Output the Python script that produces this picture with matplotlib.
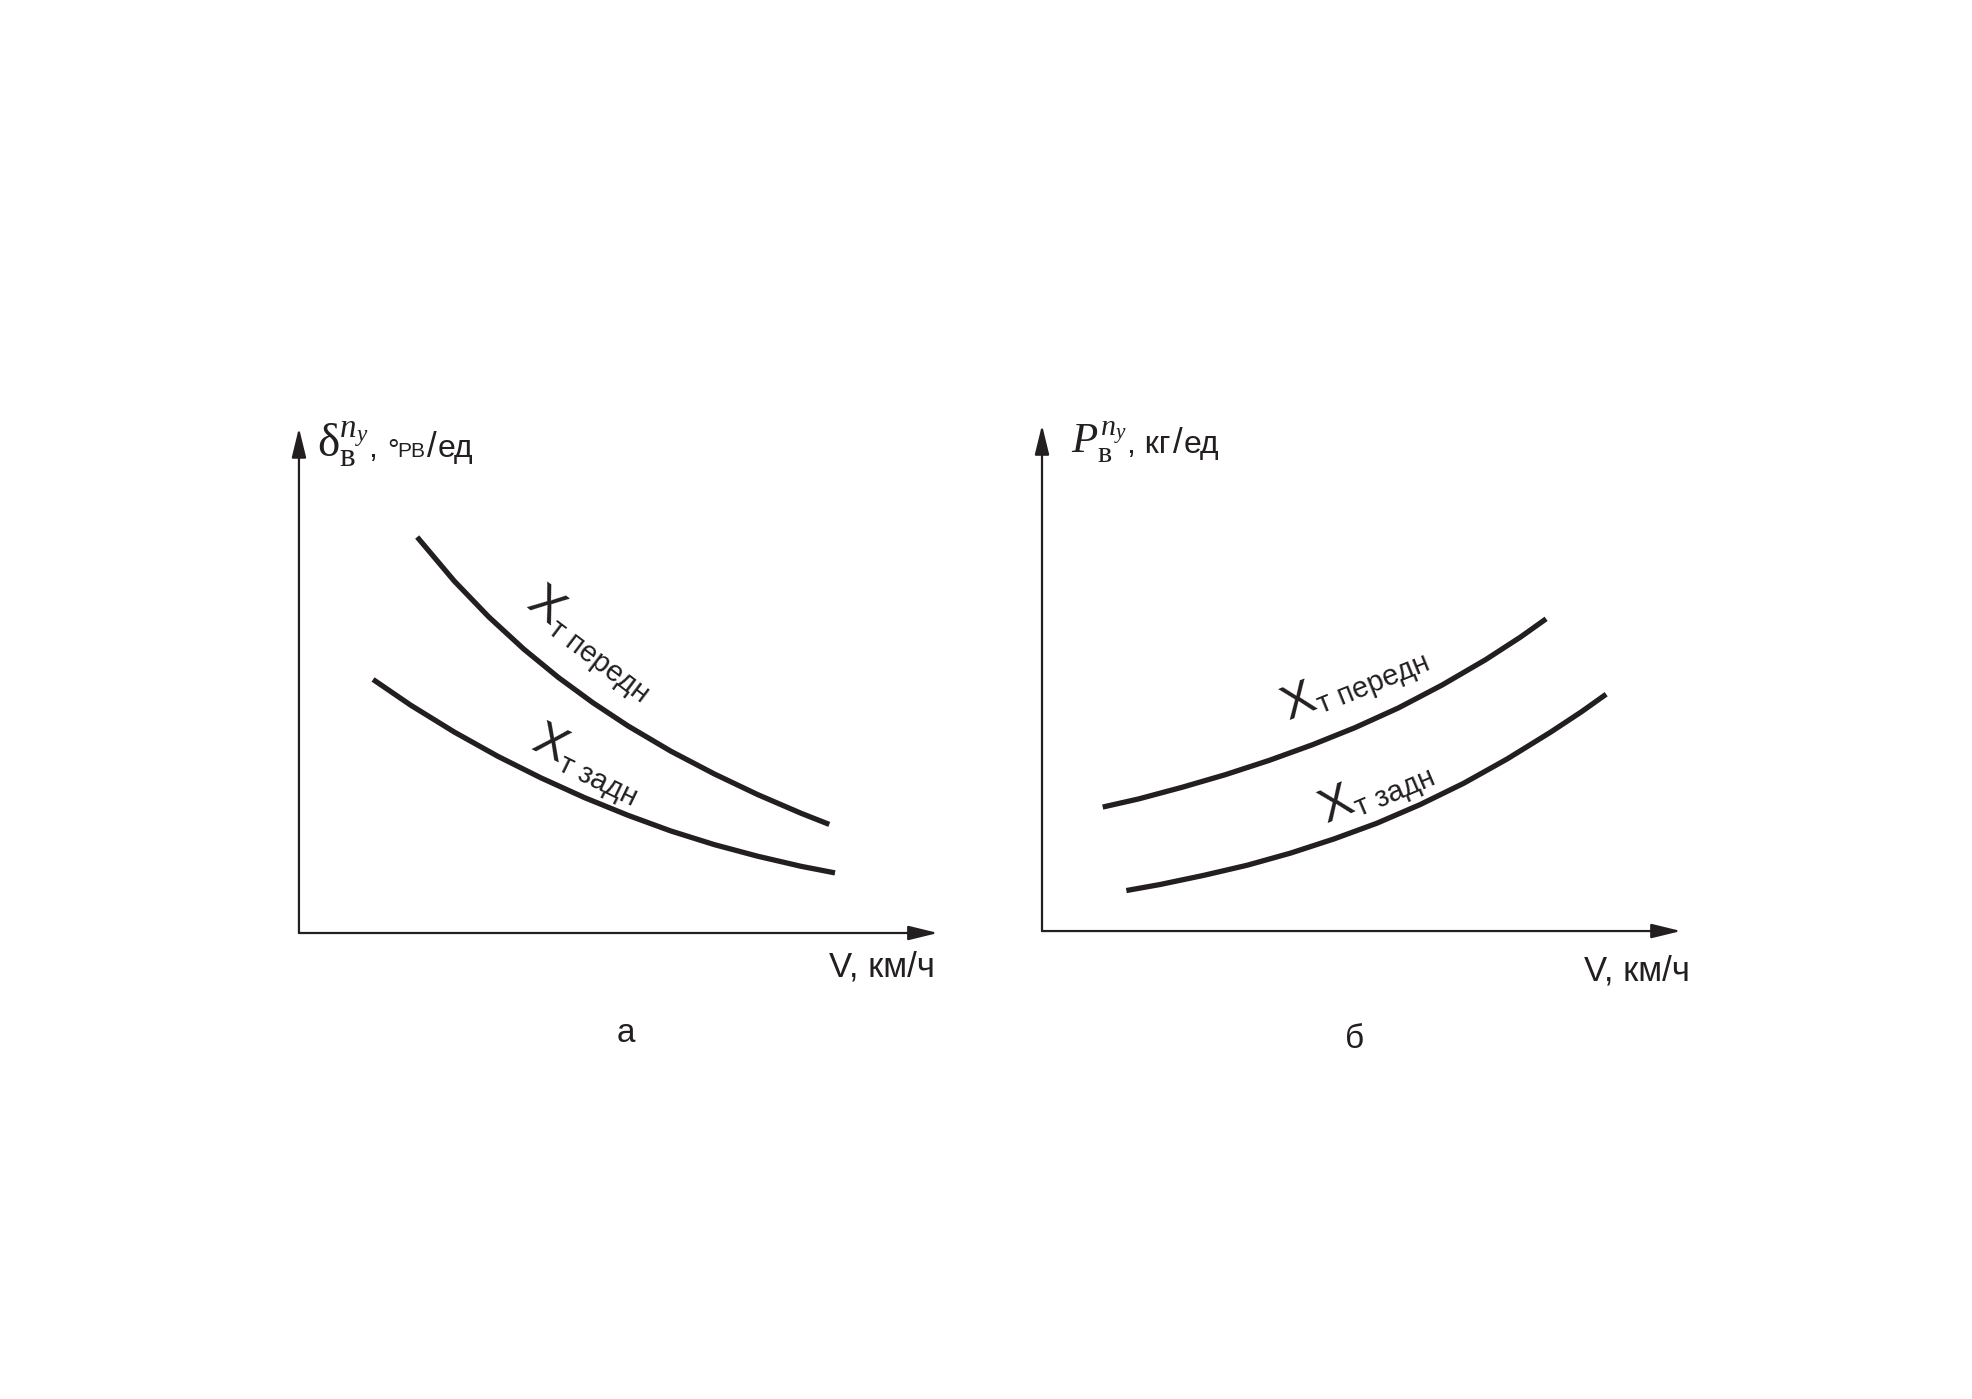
import matplotlib

matplotlib.use("Agg")

import matplotlib.pyplot as plt
import numpy as np

plt.rcParams["font.family"] = ["Liberation Sans", "DejaVu Sans"]
plt.rcParams["mathtext.fontset"] = "custom"
plt.rcParams["mathtext.rm"] = "Liberation Serif"
plt.rcParams["mathtext.it"] = "Liberation Serif:italic"

INK = "#231f20"

# panel а: elevator deflection per unit g vs speed (schematic, arbitrary units 0..10)
a_front_v = [1.85, 2.43, 2.97, 3.52, 4.06, 4.60, 5.15, 5.82, 6.50, 7.18, 7.86, 8.30]
a_front_y = [7.84, 6.97, 6.26, 5.62, 5.06, 4.56, 4.10, 3.60, 3.15, 2.74, 2.37, 2.15]
a_rear_v = [1.16, 1.75, 2.43, 3.11, 3.79, 4.47, 5.15, 5.82, 6.50, 7.18, 7.86, 8.39]
a_rear_y = [5.02, 4.51, 3.98, 3.50, 3.07, 2.68, 2.33, 2.02, 1.75, 1.52, 1.32, 1.19]

# panel б: stick force per unit g vs speed
b_front_v = [0.95, 1.51, 2.19, 2.87, 3.55, 4.23, 4.90, 5.58, 6.26, 6.94, 7.49, 7.89]
b_front_y = [2.45, 2.61, 2.84, 3.09, 3.37, 3.68, 4.02, 4.41, 4.86, 5.36, 5.81, 6.17]
b_rear_v = [1.32, 1.85, 2.53, 3.21, 3.89, 4.57, 5.24, 5.92, 6.60, 7.28, 7.96, 8.44, 8.83]
b_rear_y = [0.80, 0.92, 1.10, 1.30, 1.54, 1.82, 2.13, 2.50, 2.92, 3.40, 3.93, 4.33, 4.68]

front_label = "т передн"
rear_label = "т задн"
x_label = "V, км/ч"


def draw_axes(ax):
    ax.set_xlim(0, 10)
    ax.set_ylim(0, 10)
    ax.axis("off")
    arrow = dict(arrowstyle="-|>,head_length=0.9,head_width=0.22", color=INK, lw=1.6,
                 mutation_scale=20, shrinkA=0, shrinkB=0)
    ax.annotate("", xy=(10, 0), xytext=(0, 0), arrowprops=arrow, annotation_clip=False)
    ax.annotate("", xy=(0, 10), xytext=(0, 0), arrowprops=arrow, annotation_clip=False)


def curve_label(ax, x, y, sub, angle):
    """Big X with a rotated subscript running along the curve."""
    ax.text(x, y, "X", fontsize=35, color=INK, rotation=angle, rotation_mode="anchor",
            ha="center", va="center_baseline")
    a = np.radians(angle)
    along, perp = 12.0, -17.5
    dx = along * np.cos(a) - perp * np.sin(a)
    dy = along * np.sin(a) + perp * np.cos(a)
    ax.annotate(sub, xy=(x, y), xytext=(dx, dy), textcoords="offset points", fontsize=21,
                color=INK, rotation=angle, rotation_mode="anchor", ha="left", va="baseline")


def chain(ax, prev, s, y, size, pad=0, dy=0):
    return ax.annotate(s, xy=(1, y), xycoords=(prev, "data"), xytext=(pad, dy),
                       textcoords="offset points", fontsize=size, color=INK,
                       ha="left", va="baseline", annotation_clip=False)


def curve(ax, v, y):
    ax.plot(v, y, color=INK, lw=3.8, solid_capstyle="butt", solid_joinstyle="round",
            clip_on=False)


fig = plt.figure(figsize=(19.72, 13.99), dpi=100)
ax_a = fig.add_axes([0.1516, 0.3331, 0.3240, 0.3610])
ax_b = fig.add_axes([0.5284, 0.3345, 0.3240, 0.3617])

for ax in (ax_a, ax_b):
    draw_axes(ax)

curve(ax_a, a_front_v, a_front_y)
curve(ax_a, a_rear_v, a_rear_y)
curve(ax_b, b_front_v, b_front_y)
curve(ax_b, b_rear_v, b_rear_y)

curve_label(ax_a, 3.90, 6.53, front_label, -37)
curve_label(ax_a, 3.96, 3.82, rear_label, -26)
curve_label(ax_b, 3.99, 4.62, front_label, 22)
curve_label(ax_b, 4.59, 2.57, rear_label, 23)

# y-axis titles
ya = 9.43
t = ax_a.text(0.28, ya, r"$\mathrm{δ}_{\mathrm{в}}^{n_y}$", fontsize=34, color=INK,
              ha="left", va="baseline")
t = chain(ax_a, t, ",", ya, 23)
t = chain(ax_a, t, "°", ya, 21, pad=7, dy=-1.5)
t = chain(ax_a, t, "РВ", ya, 15, pad=-1)
t = chain(ax_a, t, "/", ya, 25, pad=1)
chain(ax_a, t, "ед", ya, 23, pad=1)

yb = 9.44
t = ax_b.text(0.45, yb, r"$P_{\mathrm{в}}^{n_y}$", fontsize=31, color=INK,
              ha="left", va="baseline")
t = chain(ax_b, t, ", кг", yb, 23)
t = chain(ax_b, t, "/", yb, 25, pad=2)
chain(ax_b, t, "ед", yb, 23, pad=1)

# x-axis titles
ax_a.text(9.95, -0.87, x_label, fontsize=25, color=INK, ha="right", va="baseline")
ax_b.text(10.14, -0.97, x_label, fontsize=25, color=INK, ha="right", va="baseline")

# panel letters
fig.text(0.3175, 0.261, "а", fontsize=24, color=INK, ha="center", va="center")
fig.text(0.687, 0.257, "б", fontsize=24, color=INK, ha="center", va="center")

fig.savefig("out.png", dpi=100, facecolor="white")
plt.close(fig)
